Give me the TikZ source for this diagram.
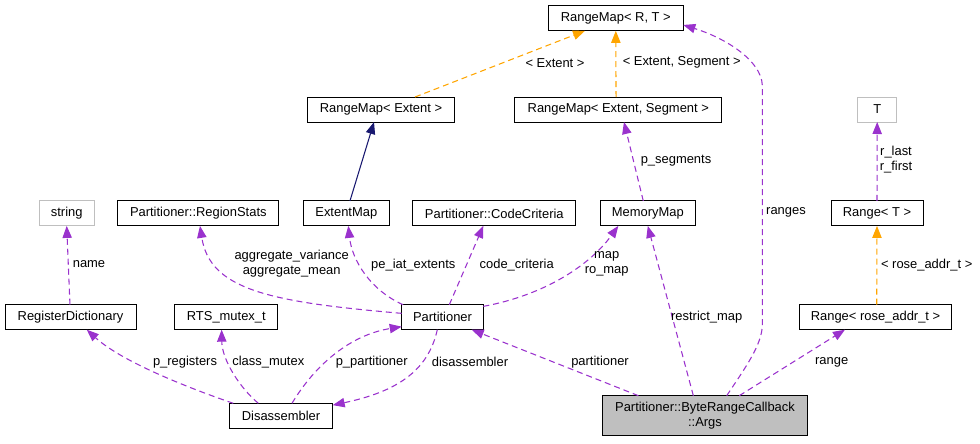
\documentclass[tikz,border=0pt]{standalone}
\usepackage{fontspec}
\setmainfont{Liberation Sans}
\usepackage{tikz}
\usetikzlibrary{arrows.meta}

\definecolor{usepurple}{HTML}{9A32CD}
\definecolor{tmplorange}{HTML}{FFA500}
\definecolor{inhnavy}{HTML}{191970}
\definecolor{boxgray}{HTML}{BFBFBF}

\begin{document}
\begin{tikzpicture}[
        x=0.75pt, y=-0.75pt,
        every node/.style={font=\fontsize{9.7}{11.25}\selectfont, inner sep=0pt, outer sep=0pt},
        box/.style={draw=black, line width=0.75pt, fill=white, minimum height=18.75pt},
        ghost/.style={box, draw=boxgray},
        lbl/.style={align=center},
        >={Triangle[length=9pt,width=7pt]},
        use/.style={->, usepurple, line width=0.8pt, dash pattern=on 4.5pt off 3pt},
        tmpl/.style={->, tmplorange, line width=0.8pt, dash pattern=on 4.5pt off 3pt},
        inh/.style={->, inhnavy, line width=0.8pt}
    ]
        \useasboundingbox (0,0) rectangle (980,443);
        % classes
        \node[box, minimum width=101.25pt] (rmRT) at (615.8,18.3) {RangeMap< R, T >};
        \node[box, minimum width=110pt] (rmE) at (381,109.5) {RangeMap< Extent >};
        \node[box, minimum width=155pt] (rmES) at (618.3,109.5) {RangeMap< Extent, Segment >};
        \node[ghost, minimum width=29.25pt] (tT) at (877.2,109.5) {T};
        \node[ghost, minimum width=41.5pt] (str) at (66.7,213.4) {string};
        \node[box, minimum width=121pt] (regStats) at (198.3,213.4) {Partitioner::RegionStats};
        \node[box, minimum width=64.5pt] (extMap) at (346.3,213.4) {ExtentMap};
        \node[box, minimum width=122.5pt] (codeCrit) at (494.3,213.4) {Partitioner::CodeCriteria};
        \node[box, minimum width=71.25pt] (memMap) at (647.8,213.4) {MemoryMap};
        \node[box, minimum width=69pt] (rangeT) at (877,213.4) {Range< T >};
        \node[box, minimum width=98.25pt] (regDict) at (70.5,317.2) {RegisterDictionary};
        \node[box, minimum width=77pt] (rtsMutex) at (226.3,317.2) {RTS\_mutex\_t};
        \node[box, minimum width=61.2pt] (part) at (442.5,317.2) {Partitioner};
        \node[box, minimum width=114.3pt] (rangeAddr) at (875.5,317.2) {Range< rose\_addr\_t >};
        \node[box, minimum width=77.5pt] (disasm) at (281,415.8) {Disassembler};
        \node[box, fill=boxgray, minimum width=154pt, minimum height=30.2pt, align=center] (args) at (705,415.8) {Partitioner::ByteRangeCallback\\::Args};

        % template instances and inheritance
        \draw[tmpl] ([xshift=25.5pt]rmE.north) -- ([xshift=-23.1pt]rmRT.south);
        \draw[tmpl] ([xshift=-1.7pt]rmES.north) -- (rmRT.south);
        \draw[tmpl] ([xshift=0.9pt]rangeAddr.north) -- (rangeT.south);
        \draw[inh] ([xshift=2.75pt]extMap.north) -- ([xshift=-5.25pt]rmE.south);

        % members
        \draw[use] ([xshift=-3.4pt]memMap.north) -- ([xshift=4.25pt]rmES.south);
        \draw[use] (rangeT.north) -- (tT.south);
        \draw[use] ([xshift=-0.4pt]regDict.north) -- (str.south);
        \draw[use] ([yshift=2.9pt]part.west) .. controls (270,302) and (210,290) .. ([xshift=1.25pt]regStats.south);
        \draw[use] ([xshift=1pt]part.north west) .. controls (370,290) and (352,260) .. ([xshift=1.5pt]extMap.south);
        \draw[use] ([xshift=5.1pt]part.north) -- ([xshift=-8.25pt]codeCrit.south);
        \draw[use] ([yshift=-1.25pt]part.north east) .. controls (545,295) and (590,265) .. ([xshift=-22.1pt]memMap.south);
        \draw[use] ([xshift=-8.75pt]args.north) -- (memMap.south);
        \draw[use] ([xshift=-50pt]args.north) -- ([xshift=21.9pt]part.south);
        \draw[use] ([xshift=25.7pt]args.north) -- ([xshift=-22.9pt]rangeAddr.south);
        \draw[use] ([xshift=-3.9pt]part.south) .. controls (428,372) and (395,392) .. ([yshift=8pt]disasm.east);
        \draw[use] ([xshift=8.25pt]disasm.north) .. controls (315,365) and (350,335) .. ([yshift=-7.1pt]part.west);
        \draw[use] ([xshift=-35.8pt]disasm.north) .. controls (180,385) and (120,360) .. ([xshift=12.2pt]regDict.south);
        \draw[use] ([xshift=-17pt]disasm.north) .. controls (240,388) and (222,360) .. ([xshift=-3.5pt]rtsMutex.south);
        \coordinate (rngLow) at (762.3,325);
        \coordinate (rngHigh) at (762.3,85);
        \draw[use] ([xshift=16.3pt]args.north) .. controls (745,368) and (762,345) .. (rngLow)
            -- (rngHigh) .. controls (761,60) and (725,38) .. ([yshift=-5pt]rmRT.east);

        % labels
        \node[lbl] (lExt) at (555,62.7) {< Extent >};
        \node[lbl] (lExtSeg) at (681.7,62.7) {< Extent, Segment >};
        \node[lbl] (lSeg) at (676,160.7) {p\_segments};
        \node[lbl] (lRanges) at (786,212.7) {ranges};
        \node[lbl] (lRlast) at (896,160) {r\_last\\r\_first};
        \node[lbl] (lRose) at (926.7,265) {< rose\_addr\_t >};
        \node[lbl] (lName) at (89,264) {name};
        \node[lbl] (lAggr) at (291.7,264) {aggregate\_variance\\aggregate\_mean};
        \node[lbl] (lPeIat) at (413.3,264.7) {pe\_iat\_extents};
        \node[lbl] (lCode) at (516.7,264.7) {code\_criteria};
        \node[lbl] (lMap) at (606.7,264) {map\\ro\_map};
        \node[lbl] (lRestrict) at (706.7,317.2) {restrict\_map};
        \node[lbl] (lPregs) at (185,361.7) {p\_registers};
        \node[lbl] (lMutex) at (268.3,362) {class\_mutex};
        \node[lbl] (lPpart) at (371.7,362) {p\_partitioner};
        \node[lbl] (lDisasm) at (470,362) {disassembler};
        \node[lbl] (lPart) at (600,361.7) {partitioner};
        \node[lbl] (lRange) at (831.7,362) {range};
    \end{tikzpicture}
\end{document}
